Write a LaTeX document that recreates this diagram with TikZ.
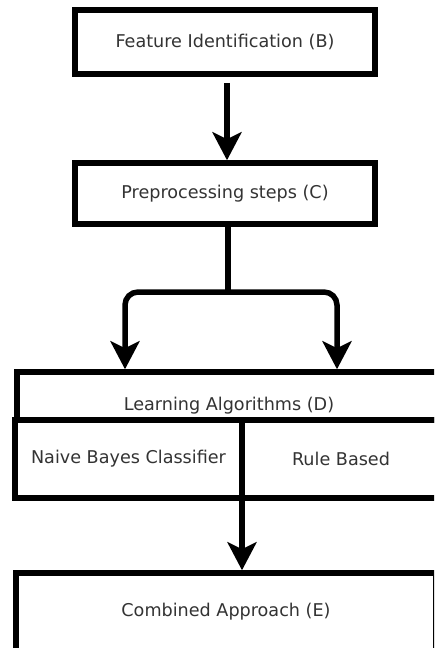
\documentclass[tikz,border=0pt]{standalone}
\usepackage{fontspec}
\setmainfont{DejaVu Sans}
\usetikzlibrary{arrows.meta,calc}
\begin{document}
\begin{tikzpicture}[x=1pt,y=-1pt,
  box/.style={draw, line width=5.5pt, inner sep=0pt, font=\fontsize{17.6}{20}\selectfont, text=black!80},
  lbl/.style={inner sep=0pt, font=\fontsize{17.6}{20}\selectfont, text=black!80},
  conn/.style={line width=5.5pt, -{Stealth[length=28pt,width=29pt,inset=7pt]}},
  plain/.style={line width=5.5pt}]
\useasboundingbox (0,0) rectangle (434,648);
\clip (0,0) rectangle (434,648);
\fill[white] (0,0) rectangle (434,648);
% boxes
\node[box, minimum width=300pt, minimum height=64pt] (B) at (225,42) {Feature Identification (B)};
\node[box, minimum width=300pt, minimum height=61pt] (C) at (225,193.5) {Preprocessing steps (C)};
\node[box, minimum width=423pt, minimum height=48pt] (D) at (228.5,396) {};
\node[lbl] (Dt) at (229,406) {Learning Algorithms (D)};
\node[box, minimum width=227pt, minimum height=78pt] (NB) at (128.5,459) {Naive Bayes Classifier};
\node[box, minimum width=198pt, minimum height=78pt] (RB) at (341,459) {Rule Based};
\node[box, minimum width=420pt, minimum height=78pt] (E) at (226,612) {Combined Approach (E)};
% helper coordinates
\coordinate (xb) at (227,0);
\coordinate (xc) at (228,0);
\coordinate (xl) at (125,0);
\coordinate (xr) at (337,0);
\coordinate (xm) at (242,0);
\coordinate (J) at (228,292);
% connectors
\draw[conn] ($(xb |- B.south)+(0,6)$) -- (xb |- C.north);
\draw[plain] (xc |- C.south) -- (J);
\draw[conn, rounded corners=13pt] (J) -| (xl |- D.north);
\draw[conn, rounded corners=13pt] (J) -| (xr |- D.north);
\draw[conn] (xm |- NB.south) -- (xm |- E.north);
\end{tikzpicture}
\end{document}
